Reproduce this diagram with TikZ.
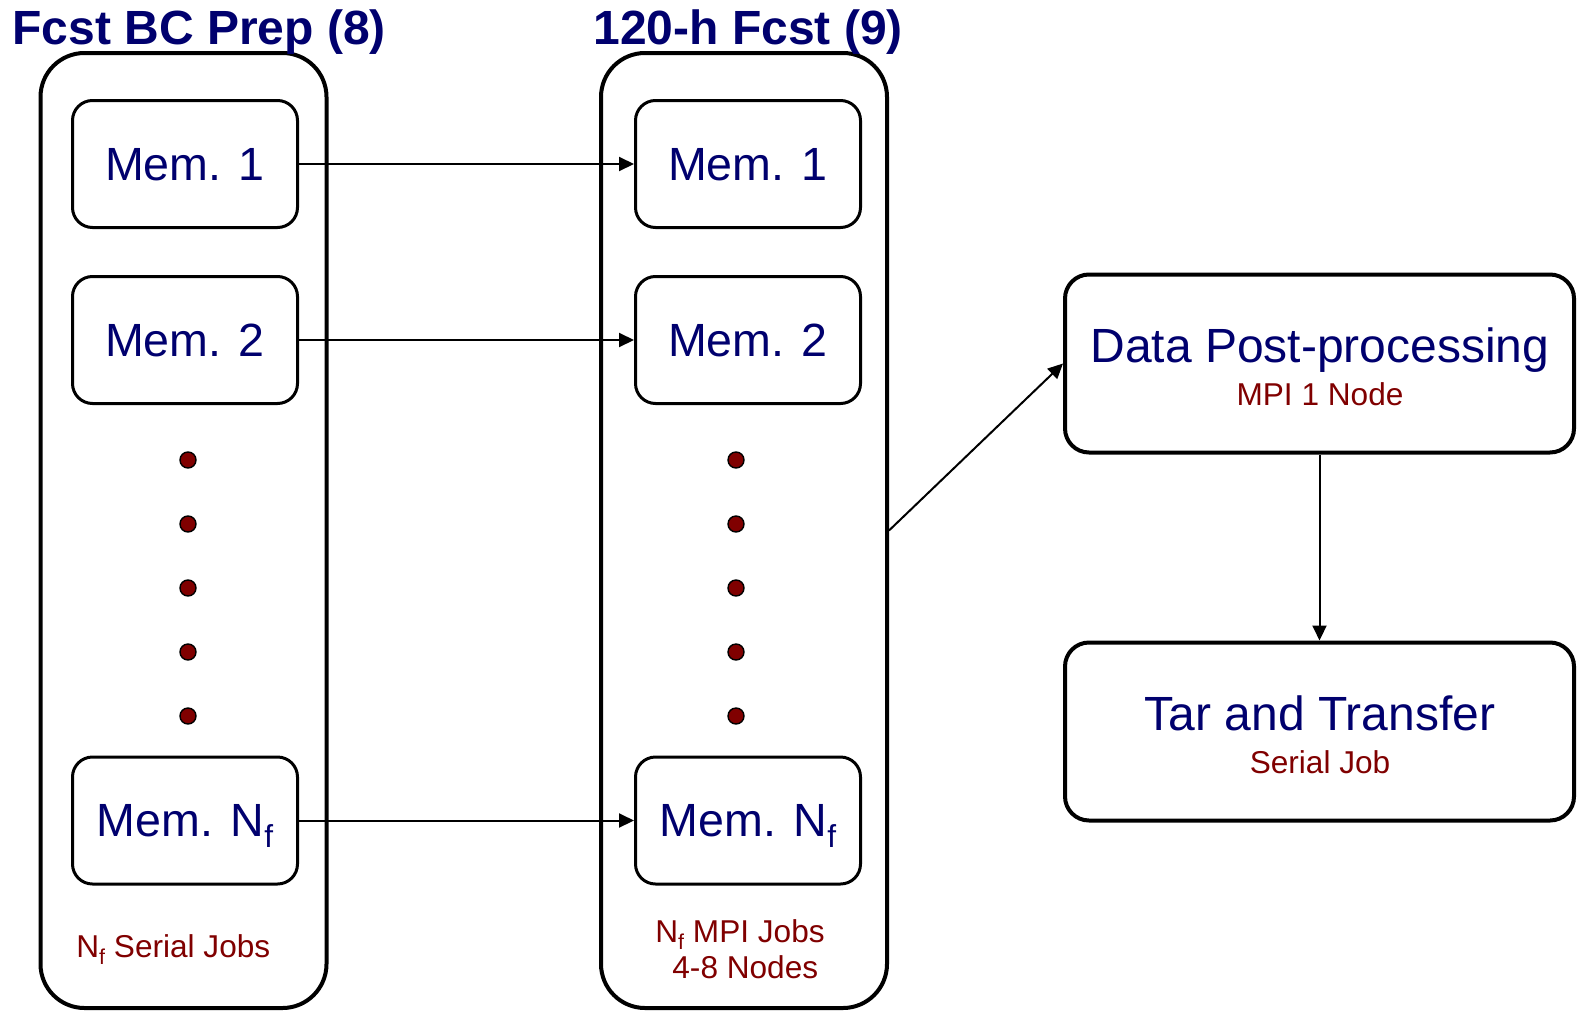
\documentclass[tikz,border=0pt]{standalone}
\usepackage{fontspec}
\usepackage{graphicx}
\setmainfont{Liberation Sans}
\usetikzlibrary{arrows.meta}
\definecolor{jobnavy}{RGB}{0,0,110}
\definecolor{jobred}{RGB}{128,0,0}
\newcommand{\Nsubf}{N\raisebox{-0.24em}{\scalebox{0.68}{f}}}

\begin{document}
\begin{tikzpicture}[x=0.5pt, y=-0.5pt]
\useasboundingbox (0,0) rectangle (1578,1012);

\coordinate (B_1) at (183.5, 530.5);
\coordinate (B_2) at (744, 530.5);
\coordinate (M1_1) at (185, 164);
\coordinate (M1_2) at (748, 164);
\coordinate (M2_1) at (185, 340);
\coordinate (M2_2) at (748, 340);
\coordinate (MN_1) at (185, 820.5);
\coordinate (MN_2) at (748, 820.5);
\coordinate (T_1) at (1319.5, 363.5);
\coordinate (T_2) at (1319.5, 731.5);


\tikzset{PhaseStyle/.style = {
 draw, line width = 2pt,
 rounded corners = 22pt,
 inner sep = 0pt,
 minimum width = 143pt,
 minimum height = 477.5pt} }

\node[PhaseStyle] (Prep) at (B_1) {};
\node[PhaseStyle] (Fcst) at (B_2) {};

\tikzset{TitleStyle/.style = {anchor = base west, inner sep = 0pt,
 text = jobnavy, font = \fontsize{24}{28}\selectfont\bfseries} }

\node[TitleStyle] (PrepTitle) at (12, 44) {Fcst BC Prep (8)};
\node[TitleStyle] (FcstTitle) at (593, 44) {120-h Fcst (9)};


\tikzset{MemStyle/.style = {
 draw, line width = 1.5pt,
 rounded corners = 10pt,
 fill = white,
 text = jobnavy,
 font = \fontsize{23.3}{27}\selectfont,
 inner sep = 0pt,
 text depth = 0pt,
 minimum width = 112.5pt,
 minimum height = 63.5pt} }

\node[MemStyle] (Mem1_1) at (M1_1) {Mem. 1};
\node[MemStyle] (Mem2_1) at (M2_1) {Mem. 2};
\node[MemStyle] (MemN_1) at (MN_1) {Mem. \Nsubf};
\node[MemStyle] (Mem1_2) at (M1_2) {Mem. 1};
\node[MemStyle] (Mem2_2) at (M2_2) {Mem. 2};
\node[MemStyle] (MemN_2) at (MN_2) {Mem. \Nsubf};

\tikzset{DotStyle/.style = {shape = circle, fill = jobred, draw = black,
 line width = 0.7pt, inner sep = 0pt, minimum size = 8pt} }

\foreach \y in {460,524,588,652,716} {
 \node[DotStyle] (PrepDot\y) at (188, \y) {};
 \node[DotStyle] (FcstDot\y) at (736, \y) {};
}


\tikzset{TaskStyle/.style = {
 draw, line width = 2pt,
 rounded corners = 12pt,
 inner sep = 0pt,
 minimum width = 254.5pt,
 minimum height = 89pt} }

\node[TaskStyle] (Post) at (T_1) {};
\node[TaskStyle] (Tar) at (T_2) {};

\tikzset{MainText/.style = {anchor = base, inner sep = 0pt,
 text = jobnavy, font = \fontsize{24}{28}\selectfont} }
\tikzset{SubText/.style = {inner sep = 0pt,
 text = jobred, font = \fontsize{15.8}{18}\selectfont} }

\node[MainText] (PostName) at (1320, 362) {Data Post-processing};
\node[SubText, anchor = base] (PostJob) at (1320, 405) {MPI 1 Node};
\node[MainText] (TarName) at (1320, 730) {Tar and Transfer};
\node[SubText, anchor = base] (TarJob) at (1320, 773) {Serial Job};

\node[SubText, anchor = base west] (PrepJobs) at (76, 957) {\Nsubf{} Serial Jobs};
\node[SubText, anchor = base west] (FcstJobs) at (655, 942) {\Nsubf{} MPI Jobs};
\node[SubText, anchor = base west] (FcstNodes) at (672, 978) {4-8 Nodes};


\tikzset{ArrowStyle/.style = {line width = 1pt, -{Triangle[length=7.5pt, width=7pt]}} }

\draw[ArrowStyle] (Mem1_1) -- (Mem1_2);
\draw[ArrowStyle] (Mem2_1) -- (Mem2_2);
\draw[ArrowStyle] (MemN_1) -- (MemN_2);
\draw[ArrowStyle] (Fcst.east) -- (Post.west);
\draw[ArrowStyle] (Post) -- (Tar);

\end{tikzpicture}
\end{document}
